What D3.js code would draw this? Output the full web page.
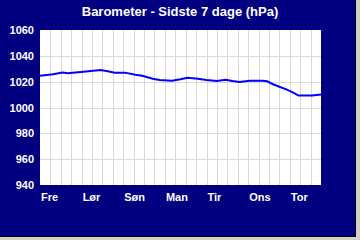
<!DOCTYPE html>
<html>
<head>
<meta charset="utf-8">
<script src="https://cdn.jsdelivr.net/npm/d3@7"></script>
<style>
  body { margin: 0; background: #d4d0c8; }
  svg { display: block; font-family: Arial, "Liberation Sans", sans-serif; }
</style>
</head>
<body>
<div class="baroChart"></div>
<script>
let width = 360
let height = 240

// hours since start (Fre 00:00) and pressure in hPa
let hours = [0, 7.5, 13, 16, 25, 35, 39, 43, 49, 55, 59, 62, 65, 69, 76, 81, 85, 91, 96, 102, 107, 111, 115, 121, 128, 131, 134, 138, 142, 146, 149, 157, 162]
let pressure = [1024.5, 1025.7, 1027, 1026.5, 1027.7, 1029, 1028, 1027, 1027, 1025.4, 1024.6, 1023.4, 1022.3, 1021.3, 1020.8, 1021.8, 1023, 1022.3, 1021.3, 1020.5, 1021.5, 1020.5, 1019.8, 1020.8, 1020.8, 1020.3, 1018.2, 1016.1, 1014, 1011.5, 1009.2, 1009.2, 1010]
let dayLabels = ["Fre", "Lør", "Søn", "Man", "Tir", "Ons", "Tor"]
let yTicks = [940, 960, 980, 1000, 1020, 1040, 1060]

const svg = d3.select(".baroChart")
  .append("svg")
  .attr("width", width)
  .attr("height", height)

// frame
svg.append("rect").attr("width", 356).attr("height", 237).attr("fill", "#000")
svg.append("rect").attr("width", 355).attr("height", 236).attr("fill", "#000080")

svg.append("text")
  .attr("x", 180)
  .attr("y", 16)
  .attr("text-anchor", "middle")
  .attr("fill", "#fff")
  .attr("font-weight", "bold")
  .attr("font-size", 13)
  .text("Barometer - Sidste 7 dage (hPa)")

const x = d3.scaleLinear()
  .domain([0, 162])
  .range([40, 321])
const y = d3.scaleLinear()
  .domain([940, 1060])
  .range([185, 30])

svg.append("rect")
  .attr("x", x(0)).attr("y", y(1060))
  .attr("width", x(162) - x(0)).attr("height", y(940) - y(1060))
  .attr("fill", "#fff")

// grid every 6 hours
const gridX = d3.range(6, 162, 6)
svg.selectAll(".vgrid")
  .data(gridX)
  .enter()
  .append("line")
  .attr("x1", d => Math.round(x(d)) + 0.5)
  .attr("x2", d => Math.round(x(d)) + 0.5)
  .attr("y1", y(1060))
  .attr("y2", y(940))
  .attr("stroke", "#d9d9d9")

svg.selectAll(".hgrid")
  .data(yTicks.slice(1, -1))
  .enter()
  .append("line")
  .attr("x1", x(0))
  .attr("x2", x(162))
  .attr("y1", d => Math.round(y(d)) + 0.5)
  .attr("y2", d => Math.round(y(d)) + 0.5)
  .attr("stroke", "#d9d9d9")

const yAxis = svg.append("g")
  .attr("transform", "translate(34,0)")
  .call(d3.axisLeft(y).tickValues(yTicks).tickFormat(d3.format("d")).tickSize(0).tickPadding(0))
yAxis.select(".domain").remove()
yAxis.selectAll("text")
  .attr("fill", "#fff")
  .attr("font-weight", "bold")
  .attr("font-size", 11)
  .attr("font-family", "Arial, 'Liberation Sans', sans-serif")

svg.selectAll(".day")
  .data(dayLabels)
  .enter()
  .append("text")
  .attr("x", (d, i) => x(i * 24) + 1)
  .attr("y", 201)
  .attr("fill", "#fff")
  .attr("font-weight", "bold")
  .attr("font-size", 11)
  .text(d => d)

const line = d3.line()
  .x((d, i) => x(hours[i]))
  .y(d => y(d))

svg.append("path")
  .datum(pressure)
  .attr("d", line)
  .attr("fill", "none")
  .attr("stroke", "#0000ff")
  .attr("stroke-width", 2)
</script>
</body>
</html>
